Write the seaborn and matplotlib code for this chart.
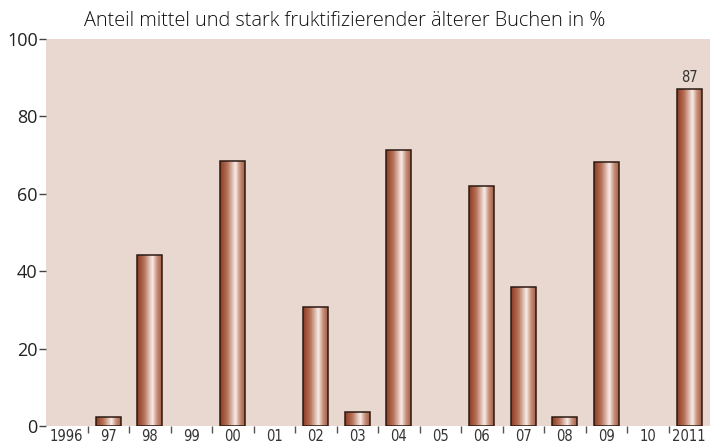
import numpy as np
import pandas as pd
import seaborn as sns
import matplotlib
matplotlib.use("Agg")
import matplotlib.pyplot as plt
from matplotlib.colors import LinearSegmentedColormap

years = ["1996", "97", "98", "99", "00", "01", "02", "03", "04", "05",
         "06", "07", "08", "09", "10", "2011"]
values = [0, 2.3, 44.2, 0, 68.5, 0, 30.7, 3.6, 71.3, 0, 62.0, 35.9, 2.3, 68.2, 0, 87]
yticks = [0, 20, 40, 60, 80, 100]
title = "Anteil mittel und stark fruktifizierender älterer Buchen in %"

sns.set_theme(style="white")
plt.rcParams['font.family'] = ['Open Sans', 'DejaVu Sans']

fig = plt.figure(figsize=(7.1, 4.41), dpi=100)
ax = fig.add_axes([0.0648, 0.034, 0.9352, 0.8776])
ax.set_facecolor("#e9d8cf")

df = pd.DataFrame({"year": years, "value": values})
sns.barplot(data=df, x="year", y="value", ax=ax, width=0.6, color="#a0522d",
            edgecolor="#2b1a12", linewidth=1.1, saturation=1)

cmap = LinearSegmentedColormap.from_list(
    "g", [(0, "#8a3a20"), (0.3, "#b8745c"), (0.62, "#f8eee8"), (0.8, "#c8917c"), (1, "#a35c44")])
grad = np.linspace(0, 1, 256).reshape(1, -1)
for p in ax.patches:
    h = p.get_height()
    if h <= 0:
        p.set_linewidth(0)
        p.set_facecolor("none")
        continue
    x0 = p.get_x(); w = p.get_width()
    im = ax.imshow(grad, cmap=cmap, extent=[x0, x0 + w, 0, h], aspect='auto',
                   zorder=2, interpolation='bilinear')
    im.set_clip_path(p)
    p.set_facecolor("none")
    p.set_zorder(3)

ax.set_xlim(-0.5, len(years) - 0.5)
ax.set_ylim(0, 100)
for s in ax.spines.values():
    s.set_visible(False)

ax.set_yticks(yticks)
ax.set_yticklabels([str(v) for v in yticks], fontsize=13, color="#222222")
ax.tick_params(axis='y', direction='out', length=5, width=1, color="#444444", pad=1, left=True)

ax.set_xticks(range(len(years)))
ax.set_xticklabels(years, fontsize=10.5, color="#333333", fontstretch='condensed',
                   family=['DejaVu Sans'])
ax.tick_params(axis='x', which='major', length=0, pad=2, bottom=False)
ax.set_xticks(np.arange(0.5, len(years) - 1, 1), minor=True)
ax.tick_params(axis='x', which='minor', direction='out', length=5, width=1, color="#555555", bottom=True)
ax.set_xlabel("")
ax.set_ylabel("")

# value label on last bar
last = len(values) - 1
ax.text(last, values[last] + 1.2, f"{values[last]:g}", ha='center', va='bottom',
        fontsize=10.5, color="#333333", fontstretch='condensed', family=['DejaVu Sans'])

fig.text(0.118, 0.952, title, ha='left', va='center', fontsize=14.3, fontweight='light',
         color="#111111")

fig.savefig("out.png", dpi=100)
